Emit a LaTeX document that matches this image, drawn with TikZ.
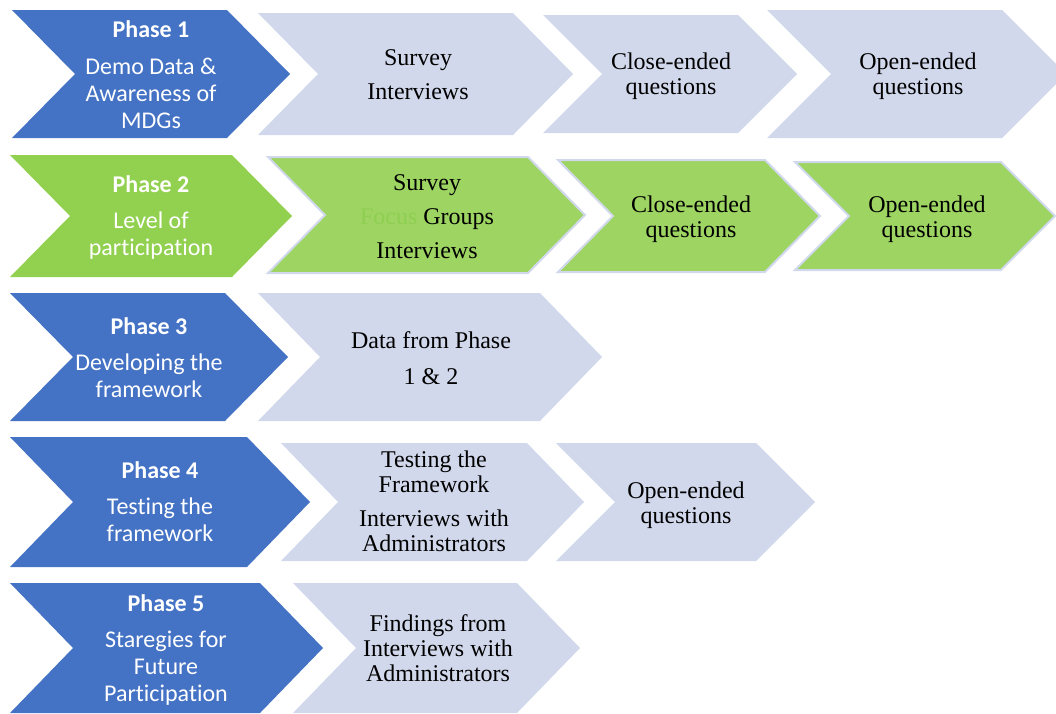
\documentclass[tikz,border=0pt]{standalone}
\usepackage{fontspec}
\setmainfont{Liberation Serif}
\newfontfamily\phasefont[Ligatures=NoCommon]{Carlito}

\definecolor{phaseblue}{HTML}{4472C4}
\definecolor{phasegreen}{HTML}{92D050}
\definecolor{steplav}{HTML}{D1D8EB}
\definecolor{stepgreen}{HTML}{9DD462}
\definecolor{focusgreen}{HTML}{8ECF52}

% chevron: style, left, top right, tip, top, bottom
\newcommand{\chevron}[6]{%
  \path[#1] (#2,#5) -- (#3,#5) -- (#4,{(#5+#6)/2}) -- (#3,#6) -- (#2,#6)
    -- ({#2+#4-#3},{(#5+#6)/2}) -- cycle;}

\tikzset{
  phaseb/.style={fill=phaseblue},
  phaseg/.style={fill=phasegreen},
  stepfill/.style={fill=steplav},
  stepgr/.style={fill=stepgreen, draw=steplav, line width=2pt, line join=miter},
  phasetxt/.style={text=white, align=center, inner sep=0pt,
    font=\phasefont\fontsize{24}{27}\selectfont},
  steptxt/.style={text=black, align=center, inner sep=0pt,
    font=\fontsize{24}{25}\selectfont}
}

\begin{document}
\begin{tikzpicture}[x=1pt,y=-1pt]
\clip (0,0) rectangle (1056,713);

% Phase 1
\chevron{phaseb}{12}{227}{290}{10}{138}
\chevron{stepfill}{258}{513}{573}{13}{135}
\chevron{stepfill}{543}{738}{797}{15}{133}
\chevron{stepfill}{767}{1002}{1066}{10}{138}
\node[phasetxt] (p1) at (151,75) {\textbf{Phase 1}\\[10pt]Demo Data \&\\Awareness of\\MDGs};
\node[steptxt] (a1) at (418,75) {Survey\\[9pt]Interviews};
\node[steptxt] (a2) at (671,76.5) {Close-ended\\questions};
\node[steptxt] (a3) at (918,76.5) {Open-ended\\questions};

% Phase 2
\chevron{phaseg}{10}{232}{292}{155}{277}
\chevron{stepgr}{268}{528}{585}{157}{273}
\chevron{stepgr}{558}{765}{820}{160}{272}
\chevron{stepgr}{795}{1001}{1055}{162}{270}
\node[phasetxt] (p2) at (151,217.5) {\textbf{Phase 2}\\[9pt]Level of\\participation};
\node[steptxt] (b1) at (427,217) {Survey\\[9pt]{\color{focusgreen}Focus} Groups\\[9pt]Interviews};
\node[steptxt] (b2) at (691,219) {Close-ended\\questions};
\node[steptxt] (b3) at (927,219) {Open-ended\\questions};

% Phase 3
\chevron{phaseb}{10}{225}{288}{293}{421}
\chevron{stepfill}{258}{540}{602}{293}{421}
\node[phasetxt] (p3) at (149,357.5) {\textbf{Phase 3}\\[9pt]Developing the\\framework};
\node[steptxt] (c1) at (431,358) {Data from Phase\\[11pt]1 \& 2};

% Phase 4
\chevron{phaseb}{10}{247}{310}{437}{567}
\chevron{stepfill}{281}{527}{584}{443}{561}
\chevron{stepfill}{556}{756}{815}{443}{561}
\node[phasetxt] (p4) at (160,501.5) {\textbf{Phase 4}\\[9pt]Testing the\\framework};
\node[steptxt] (d1) at (434,501) {Testing the\\Framework\\[9pt]Interviews with\\Administrators};
\node[steptxt] (d2) at (686,505) {Open-ended\\questions};

% Phase 5
\chevron{phaseb}{10}{260}{323}{583}{713}
\chevron{stepfill}{293}{517}{580}{583}{713}
\node[phasetxt] (p5) at (166,650) {\textbf{Phase 5}\\[9pt]Staregies for\\Future\\Participation};
\node[steptxt] (e1) at (438,648) {Findings from\\Interviews with\\Administrators};
\end{tikzpicture}
\end{document}
